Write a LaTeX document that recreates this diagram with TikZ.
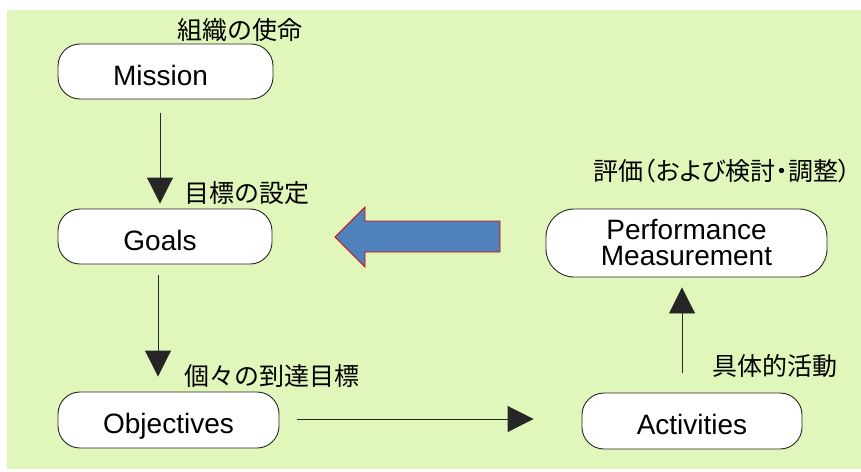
\documentclass[tikz,border=0pt]{standalone}
\usepackage{fontspec}
\setmainfont{Liberation Sans}
\newfontfamily\jp{Noto Sans CJK JP}
\newfontfamily\jpp[RawFeature=+palt]{Noto Sans CJK JP}
\usetikzlibrary{arrows.meta}
\definecolor{bggreen}{RGB}{224,246,186}
\definecolor{bluearrow}{RGB}{79,129,189}
\tikzset{
  stadium/.style={draw=black!85, line width=0.9pt, fill=white, rounded corners=22pt,
    inner sep=0pt, font=\fontsize{28}{26}\selectfont},
  oneline/.style={text height=27pt, text depth=0pt},
  jplabel/.style={inner sep=0pt, font=\jp\fontsize{25}{28}\selectfont},
  flow/.style={draw=black!85, line width=0.9pt, -{Triangle[width=26pt,length=26pt]}},
}
\begin{document}
\begin{tikzpicture}[x=1pt,y=-1pt]
\useasboundingbox (0,0) rectangle (861,471);
\fill[white] (0,0) rectangle (861,471);
\fill[bggreen] (7,10) rectangle (861,469);

% boxes
\node[stadium, oneline, minimum width=215pt, minimum height=55pt] (M) at (165.5,71.5) {Mission\hspace*{10pt}};
\node[stadium, oneline, minimum width=214pt, minimum height=55pt] (G) at (165,236.5) {Goals\hspace*{10pt}};
\node[stadium, oneline, minimum width=221pt, minimum height=56pt] (O) at (168.5,420) {Objectives};
\node[stadium, oneline, minimum width=220pt, minimum height=56pt] (A) at (692,421) {Activities};
\node[stadium, align=center, rounded corners=28pt, minimum width=281pt, minimum height=68pt] (P) at (686.5,243) {Performance\\Measurement};

% labels
\node[jplabel] (lM) at (240,30) {組織の使命};
\node[jplabel] (lG) at (247,193) {目標の設定};
\node[jplabel] (lO) at (272,376) {個々の到達目標};
\node[jplabel] (lA) at (775,366) {具体的活動};
\node[jplabel, font=\jpp\fontsize{25}{28}\selectfont] (lP) at (722,171) {評価（および検討・調整）};

% connectors
\draw[flow] ([xshift=-5.5pt,yshift=-14pt]M.south) -- ([xshift=-5pt,yshift=5pt]G.north);
\draw[flow] ([xshift=-7pt,yshift=-11pt]G.south) -- ([xshift=-10.5pt,yshift=15pt]O.north);
\draw[flow] ([xshift=18pt,yshift=1pt]O.east) -- ([xshift=-48pt,yshift=2pt]A.west);
\draw[flow] ([xshift=-10pt,yshift=20pt]A.north) -- ([xshift=-4.5pt,yshift=-10pt]P.south);

% big feedback arrow
\draw[fill=bluearrow, draw=red!85!black, line width=0.8pt]
  (335,237) -- (365,207) -- (365,221) -- (500,221) -- (500,252) -- (365,252) -- (365,267) -- cycle;
\end{tikzpicture}
\end{document}
